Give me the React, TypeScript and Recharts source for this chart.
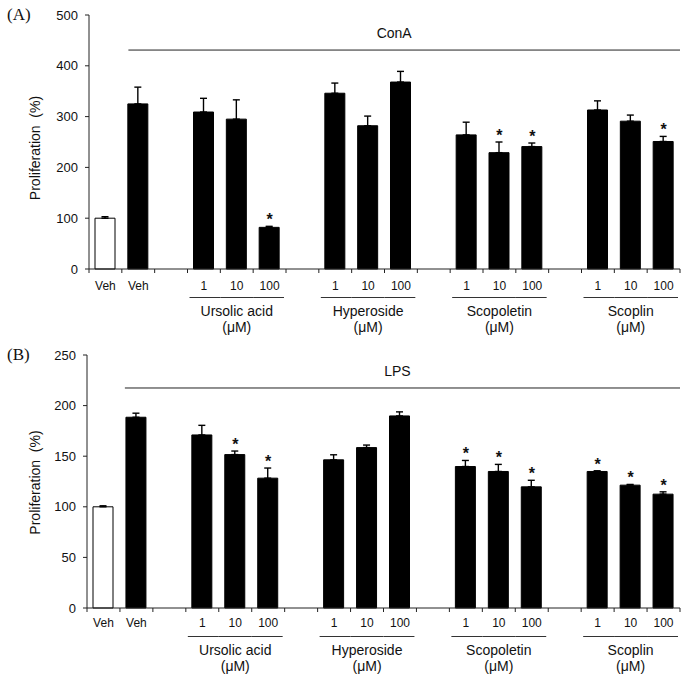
import React from 'react';
import {
  ComposedChart, Bar, Cell, ErrorBar, XAxis, YAxis, Scatter, ReferenceLine,
} from 'recharts';

const categories = ['Veh', 'Veh', '', '1', '10', '100', '', '1', '10', '100', '', '1', '10', '100', '', '1', '10', '100'];
const groupOf = [-1, -1, -1, 0, 0, 0, -1, 1, 1, 1, -1, 2, 2, 2, -1, 3, 3, 3];
const groupNames = ['Ursolic acid', 'Hyperoside', 'Scopoletin', 'Scoplin'];
const unitLabel = '(\u03BCM)';

const conaValues = [100, 325, null, 309, 295, 82, null, 346, 282, 368, null, 264, 229, 241, null, 313, 291, 251];
const conaErrors = [3, 33, null, 27, 38, 2, null, 20, 19, 21, null, 25, 21, 7, null, 18, 12, 10];
const conaSig = [0, 0, 0, 0, 0, 1, 0, 0, 0, 0, 0, 0, 1, 1, 0, 0, 0, 1];

const lpsValues = [100, 188.5, null, 171, 151.6, 128.3, null, 146.4, 158.5, 189.8, null, 139.8, 134.9, 119.7, null, 134.9, 121.4, 112.5];
const lpsErrors = [1, 4, null, 9.5, 3.5, 10, null, 5, 2.5, 4, null, 6, 7, 6.5, null, 0.7, 0.7, 2.3];
const lpsSig = [0, 0, 0, 0, 1, 1, 0, 0, 0, 0, 0, 1, 1, 1, 0, 1, 1, 1];

const conaTicks = [0, 100, 200, 300, 400, 500];
const lpsTicks = [0, 50, 100, 150, 200, 250];

const SANS = '"Liberation Sans", Arial, sans-serif';
const SERIF = '"Liberation Serif", "Times New Roman", serif';

function buildData(values: (number | null)[], errors: (number | null)[], sig: number[]) {
  return categories.map((label, i) => ({
    key: 'c' + i,
    idx: i,
    label,
    value: values[i],
    err: errors[i] == null ? null : [0, errors[i]],
    star: sig[i] ? (values[i] as number) + (errors[i] as number) : null,
  }));
}

const conaData = buildData(conaValues, conaErrors, conaSig);
const lpsData = buildData(lpsValues, lpsErrors, lpsSig);

function makeXTick(labelDy: number) {
  return function XTick(props: any) {
    const { x, y, payload } = props;
    const i = parseInt(String(payload.value).slice(1), 10);
    const off = payload.offset ?? 16.5;
    const g = groupOf[i];
    let k = -1;
    if (g >= 0) {
      k = 0;
      while (i - k - 1 >= 0 && groupOf[i - k - 1] === g) k++;
    }
    const last = i === categories.length - 1;
    return (
      <g>
        <line x1={x - off} y1={y} x2={x - off} y2={y + 4} stroke="#222" strokeWidth={1} />
        {last && <line x1={x + off} y1={y} x2={x + off} y2={y + 4} stroke="#222" strokeWidth={1} />}
        <text x={x} y={y + labelDy} textAnchor="middle" fontSize={12} fontFamily={SANS} fill="#111">
          {categories[i]}
        </text>
        {g >= 0 && (
          <line
            x1={x - off + (k === 0 ? 2 : 0)}
            y1={y + 28.5}
            x2={x + off - (k === 2 ? 2 : 0)}
            y2={y + 28.5}
            stroke="#333"
            strokeWidth={1}
          />
        )}
        {k === 1 && (
          <>
            <text x={x} y={y + 47} textAnchor="middle" fontSize={14} fontFamily={SANS} fill="#111">
              {groupNames[g]}
            </text>
            <text x={x} y={y + 63} textAnchor="middle" fontSize={14} fontFamily={SANS} fill="#111">
              {unitLabel}
            </text>
          </>
        )}
      </g>
    );
  };
}

const StarShape = (props: any) => {
  const { cx, cy, payload } = props;
  if (payload == null || payload.star == null || cx == null || cy == null) return <g />;
  return (
    <text x={cx} y={cy - 1} textAnchor="middle" fontSize={16} fontWeight="bold" fontFamily={SANS} fill="#111">
      *
    </text>
  );
};

type PanelProps = {
  data: any[];
  width: number;
  height: number;
  yWidth: number;
  xHeight: number;
  ticks: number[];
  lineY: number;
  lineStart: number;
  treatment: string;
  labelShift: number;
  tickDy: number;
  yLabelDy: number;
};

function Panel(p: PanelProps) {
  const XTick = makeXTick(p.tickDy);
  return (
    <ComposedChart
      width={p.width}
      height={p.height}
      data={p.data}
      margin={{ top: 15, right: 11, bottom: 0, left: 0 }}
    >
      <XAxis
        dataKey="key"
        type="category"
        height={p.xHeight}
        interval={0}
        tickSize={0}
        tickMargin={0}
        tickLine={false}
        axisLine={{ stroke: '#222' }}
        tick={<XTick />}
      />
      <XAxis xAxisId="n" dataKey="idx" type="number" domain={[0, categories.length]} allowDataOverflow hide />
      <YAxis
        width={p.yWidth}
        domain={[p.ticks[0], p.ticks[p.ticks.length - 1]]}
        ticks={p.ticks}
        interval={0}
        tickSize={4}
        tickMargin={7}
        axisLine={{ stroke: '#222' }}
        tickLine={{ stroke: '#222' }}
        tick={{ fontSize: 13, fontFamily: SANS, fill: '#111' }}
        label={(lp: any) => {
          const vb = lp.viewBox || { x: 0, y: 0, width: 0, height: 0 };
          const cx = vb.x + 35;
          const cy = vb.y + vb.height / 2 + p.yLabelDy;
          return (
            <text
              x={cx}
              y={cy}
              transform={`rotate(-90, ${cx}, ${cy})`}
              textAnchor="middle"
              dominantBaseline="central"
              fontSize={14}
              fontFamily={SANS}
              fill="#111"
              style={{ whiteSpace: 'pre' }}
            >
              {'Proliferation  (%)'}
            </text>
          );
        }}
      />
      <ReferenceLine
        xAxisId="n"
        segment={[{ x: p.lineStart, y: p.lineY }, { x: categories.length, y: p.lineY }]}
        stroke="#222"
        strokeWidth={1}
        ifOverflow="visible"
        label={(lp: any) => {
          const vb = lp.viewBox || { x: 0, y: 0, width: 0, height: 0 };
          return (
            <text
              x={vb.x + vb.width / 2 + p.labelShift}
              y={vb.y - 12}
              textAnchor="middle"
              fontSize={14}
              fontFamily={SANS}
              fill="#111"
            >
              {p.treatment}
            </text>
          );
        }}
      />
      <Bar dataKey="value" barSize={20} isAnimationActive={false}>
        {p.data.map((d, i) => (
          <Cell key={d.key} fill={i === 0 ? '#fff' : '#000'} stroke="#000" strokeWidth={1} />
        ))}
        <ErrorBar dataKey="err" width={3.5} stroke="#000" strokeWidth={1.4} direction="y" />
      </Bar>
      <Scatter dataKey="star" shape={<StarShape />} isAnimationActive={false} />
    </ComposedChart>
  );
}

export default function App() {
  return (
    <div style={{ position: 'absolute', left: 0, top: 0, width: 691, height: 685, background: '#fff' }}>
      <div style={{ position: 'absolute', left: 0, top: 0 }}>
        <Panel
          data={conaData}
          width={691}
          height={340}
          yWidth={89}
          xHeight={71}
          ticks={conaTicks}
          lineY={431}
          lineStart={1.2}
          treatment="ConA"
          labelShift={-10}
          tickDy={21}
          yLabelDy={6}
        />
      </div>
      <div style={{ position: 'absolute', left: 0, top: 340 }}>
        <Panel
          data={lpsData}
          width={691}
          height={345}
          yWidth={87}
          xHeight={77}
          ticks={lpsTicks}
          lineY={217.4}
          lineStart={1.15}
          treatment="LPS"
          labelShift={-5}
          tickDy={19}
          yLabelDy={1}
        />
      </div>
      <div style={{ position: 'absolute', left: 7, top: 5, fontFamily: SERIF, fontSize: 17, lineHeight: '20px', color: '#111' }}>
        (A)
      </div>
      <div style={{ position: 'absolute', left: 7, top: 345, fontFamily: SERIF, fontSize: 17, lineHeight: '20px', color: '#111' }}>
        (B)
      </div>
    </div>
  );
}
